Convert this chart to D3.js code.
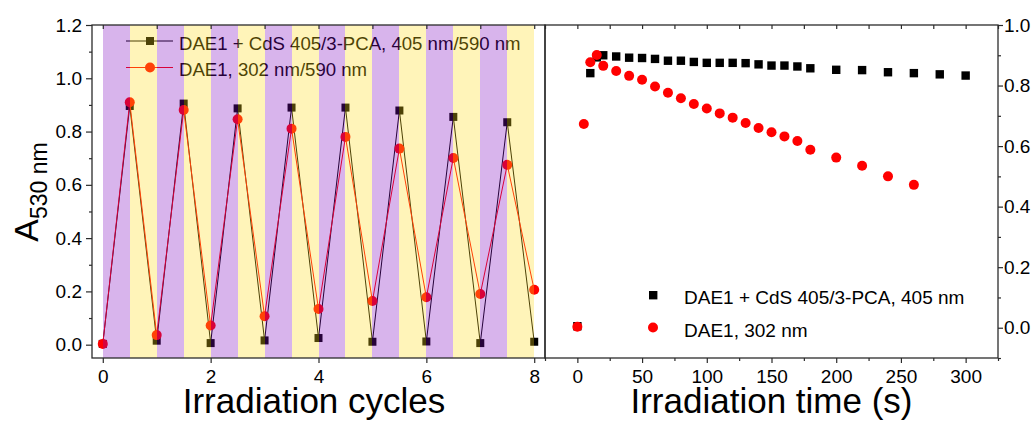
<!DOCTYPE html>
<html>
<head>
<meta charset="utf-8">
<script src="https://cdn.jsdelivr.net/npm/d3@7"></script>
<style>
  html, body { margin: 0; padding: 0; background: #fff; }
  svg { display: block; font-family: "Liberation Sans", Arial, sans-serif; }
  .tick text { font-size: 19px; fill: #000; }
  .tick line { stroke: #2b2b2b; stroke-width: 1.2; }
</style>
</head>
<body>
<svg id="chart" width="1036" height="421"></svg>
<script>
// ---------- data ----------
const cycleSteps = [0, 0.5, 1, 1.5, 2, 2.5, 3, 3.5, 4, 4.5, 5, 5.5, 6, 6.5, 7, 7.5, 8];
const cycCdS   = [0.003, 0.896, 0.015, 0.905, 0.006, 0.887, 0.016, 0.890, 0.025, 0.890, 0.011, 0.879, 0.012, 0.855, 0.006, 0.835, 0.011];
const cycDAE   = [0.003, 0.910, 0.036, 0.881, 0.072, 0.846, 0.107, 0.811, 0.134, 0.780, 0.164, 0.736, 0.178, 0.701, 0.190, 0.675, 0.206];
const stripeKinds = ["UV", "Vis", "UV", "Vis", "UV", "Vis", "UV", "Vis", "UV", "Vis", "UV", "Vis", "UV", "Vis", "UV", "Vis"];

const timeCdS  = [0, 10, 15, 20, 30, 40, 50, 60, 70, 80, 90, 100, 110, 120, 130, 140, 150, 160, 170, 180, 200, 220, 240, 260, 280, 300];
const valCdS   = [0.005, 0.841, 0.893, 0.900, 0.896, 0.892, 0.891, 0.888, 0.882, 0.882, 0.878, 0.875, 0.875, 0.875, 0.874, 0.870, 0.866, 0.866, 0.863, 0.857, 0.852, 0.851, 0.844, 0.841, 0.837, 0.833];
const timeDAE  = [0, 5, 10, 15, 20, 30, 40, 50, 60, 70, 80, 90, 100, 110, 120, 130, 140, 150, 160, 170, 180, 200, 220, 240, 260];
const valDAE   = [0.003, 0.673, 0.877, 0.901, 0.865, 0.848, 0.832, 0.819, 0.797, 0.776, 0.758, 0.739, 0.724, 0.708, 0.694, 0.676, 0.660, 0.646, 0.632, 0.617, 0.588, 0.562, 0.535, 0.500, 0.472];

const leftTicksY  = [0, 0.2, 0.4, 0.6, 0.8, 1.0, 1.2];
const leftMinorY  = [0.1, 0.3, 0.5, 0.7, 0.9, 1.1];
const leftTicksX  = [0, 2, 4, 6, 8];
const leftTopX    = [0, 1, 2, 3, 4, 5, 6, 7, 8];
const rightTicksY = [0, 0.2, 0.4, 0.6, 0.8, 1.0];
const rightMinorY = [-0.1, 0.1, 0.3, 0.5, 0.7, 0.9];
const rightTicksX = [0, 50, 100, 150, 200, 250, 300];
const rightMinorX = [-25, 25, 75, 125, 175, 225, 275, 325];

const legendLeft  = ["DAE1 + CdS 405/3-PCA, 405 nm/590 nm", "DAE1, 302 nm/590 nm"];
const legendRight = ["DAE1 + CdS 405/3-PCA, 405 nm", "DAE1, 302 nm"];

// ---------- layout ----------
const svg = d3.select("#chart");
const L = { x0: 92, x1: 545, y0: 25, y1: 358 };
const R = { x0: 545, x1: 998, y0: 25, y1: 358 };

const xL = d3.scaleLinear().domain([-0.2, 8.2]).range([L.x0, L.x1]);
const yL = d3.scaleLinear().domain([-0.05, 1.2]).range([L.y1, L.y0]);
const xR = d3.scaleLinear().domain([-25, 325]).range([R.x0, R.x1]);
const yR = d3.scaleLinear().domain([-0.1, 1.0]).range([R.y1, R.y0]);

const fmt1 = d3.format(".1f");

function axis(g, ax, noLabels) {
  g.call(ax);
  g.select(".domain").remove();
  if (noLabels) g.selectAll("text").remove();
  return g;
}

// ---------- left panel ----------
const gL = svg.append("g");
const cdsPts = cycleSteps.map((c, i) => [c, cycCdS[i]]);
const daePts = cycleSteps.map((c, i) => [c, cycDAE[i]]);
const lineL = d3.line().x(d => xL(d[0])).y(d => yL(d[1]));

gL.append("path").attr("d", lineL(cdsPts)).attr("fill", "none").attr("stroke", "#000").attr("stroke-width", 1);
gL.selectAll("rect.sq").data(cdsPts).join("rect").attr("class", "sq")
  .attr("x", d => xL(d[0]) - 4).attr("y", d => yL(d[1]) - 4).attr("width", 8).attr("height", 8).attr("fill", "#000");
gL.append("path").attr("d", lineL(daePts)).attr("fill", "none").attr("stroke", "#ff0000").attr("stroke-width", 1);
gL.selectAll("circle.ci").data(daePts).join("circle").attr("class", "ci")
  .attr("cx", d => xL(d[0])).attr("cy", d => yL(d[1])).attr("r", 5).attr("fill", "#ff0000");

// left legend
const legL = gL.append("g");
[0, 1].forEach(i => {
  const y = i === 0 ? 41 : 67.5;
  legL.append("line").attr("x1", 126).attr("x2", 173).attr("y1", y).attr("y2", y)
    .attr("stroke", i === 0 ? "#000" : "#ff0000").attr("stroke-width", 1);
  if (i === 0) legL.append("rect").attr("x", 146).attr("y", y - 4).attr("width", 8).attr("height", 8).attr("fill", "#000");
  else legL.append("circle").attr("cx", 150).attr("cy", y).attr("r", 5).attr("fill", "#ff0000");
  legL.append("text").attr("x", 179).attr("y", i === 0 ? 50 : 76).attr("font-size", 18.6).attr("fill", "#000").text(legendLeft[i]);
});

// stripes overlay (irradiation steps)
const stripeColor = { UV: "#7d05c0", Vis: "#ffda16" };
gL.append("g").selectAll("rect").data(stripeKinds).join("rect")
  .attr("x", (d, i) => xL(cycleSteps[i]))
  .attr("width", (d, i) => xL(cycleSteps[i + 1]) - xL(cycleSteps[i]))
  .attr("y", L.y0).attr("height", L.y1 - L.y0)
  .attr("fill", d => stripeColor[d]).attr("fill-opacity", 0.3)
  .attr("shape-rendering", "crispEdges");

// left axes
axis(svg.append("g").attr("transform", `translate(${L.x0},0)`),
  d3.axisLeft(yL).tickValues(leftTicksY).tickFormat(fmt1).tickSize(6).tickPadding(4));
axis(svg.append("g").attr("transform", `translate(${L.x0},0)`),
  d3.axisLeft(yL).tickValues(leftMinorY).tickSize(3), true);
axis(svg.append("g").attr("transform", `translate(0,${L.y1})`),
  d3.axisBottom(xL).tickValues(leftTicksX).tickFormat(d3.format("d")).tickSize(5).tickPadding(6.5));
axis(svg.append("g").attr("transform", `translate(0,${L.y0})`),
  d3.axisTop(xL).tickValues(leftTopX).tickSize(-4), true);

// ---------- right panel ----------
const gR = svg.append("g");
gR.selectAll("rect.sq").data(timeCdS.map((t, i) => [t, valCdS[i]])).join("rect").attr("class", "sq")
  .attr("x", d => xR(d[0]) - 4.2).attr("y", d => yR(d[1]) - 4.2).attr("width", 8.4).attr("height", 8.4).attr("fill", "#000");
gR.selectAll("circle.ci").data(timeDAE.map((t, i) => [t, valDAE[i]])).join("circle").attr("class", "ci")
  .attr("cx", d => xR(d[0])).attr("cy", d => yR(d[1])).attr("r", 5).attr("fill", "#ff0000");

// right legend
gR.append("rect").attr("x", 649).attr("y", 291).attr("width", 8.4).attr("height", 8.4).attr("fill", "#000");
gR.append("circle").attr("cx", 653).attr("cy", 327.5).attr("r", 5).attr("fill", "#ff0000");
gR.append("text").attr("x", 684).attr("y", 303.5).attr("font-size", 19).text(legendRight[0]);
gR.append("text").attr("x", 684).attr("y", 337).attr("font-size", 19).text(legendRight[1]);

// right axes
axis(svg.append("g").attr("transform", `translate(${R.x1},0)`),
  d3.axisRight(yR).tickValues(rightTicksY).tickFormat(fmt1).tickSize(5).tickPadding(1));
axis(svg.append("g").attr("transform", `translate(${R.x1},0)`),
  d3.axisRight(yR).tickValues(rightMinorY).tickSize(3), true);
axis(svg.append("g").attr("transform", `translate(0,${R.y1})`),
  d3.axisBottom(xR).tickValues(rightTicksX).tickFormat(d3.format("d")).tickSize(5).tickPadding(6.5));
axis(svg.append("g").attr("transform", `translate(0,${R.y1})`),
  d3.axisBottom(xR).tickValues(rightMinorX).tickSize(3), true);
axis(svg.append("g").attr("transform", `translate(0,${R.y0})`),
  d3.axisTop(xR).tickValues(rightTicksX.concat(rightMinorX)).tickSize(-4), true);

// frames
[L, R].forEach(p => {
  svg.append("rect").attr("x", p.x0).attr("y", p.y0).attr("width", p.x1 - p.x0).attr("height", p.y1 - p.y0)
    .attr("fill", "none").attr("stroke", "#2b2b2b").attr("stroke-width", 1.3);
});

// titles
svg.append("text").attr("x", 314).attr("y", 413).attr("text-anchor", "middle").attr("font-size", 35).text("Irradiation cycles");
svg.append("text").attr("x", 771.5).attr("y", 413).attr("text-anchor", "middle").attr("font-size", 35).text("Irradiation time (s)");
const yt = svg.append("text").attr("transform", "translate(37.5,192) rotate(-90)").attr("text-anchor", "middle");
yt.append("tspan").attr("font-size", 34).text("A");
yt.append("tspan").attr("font-size", 23).attr("dy", 9.4).text("530 nm");
</script>
</body>
</html>
